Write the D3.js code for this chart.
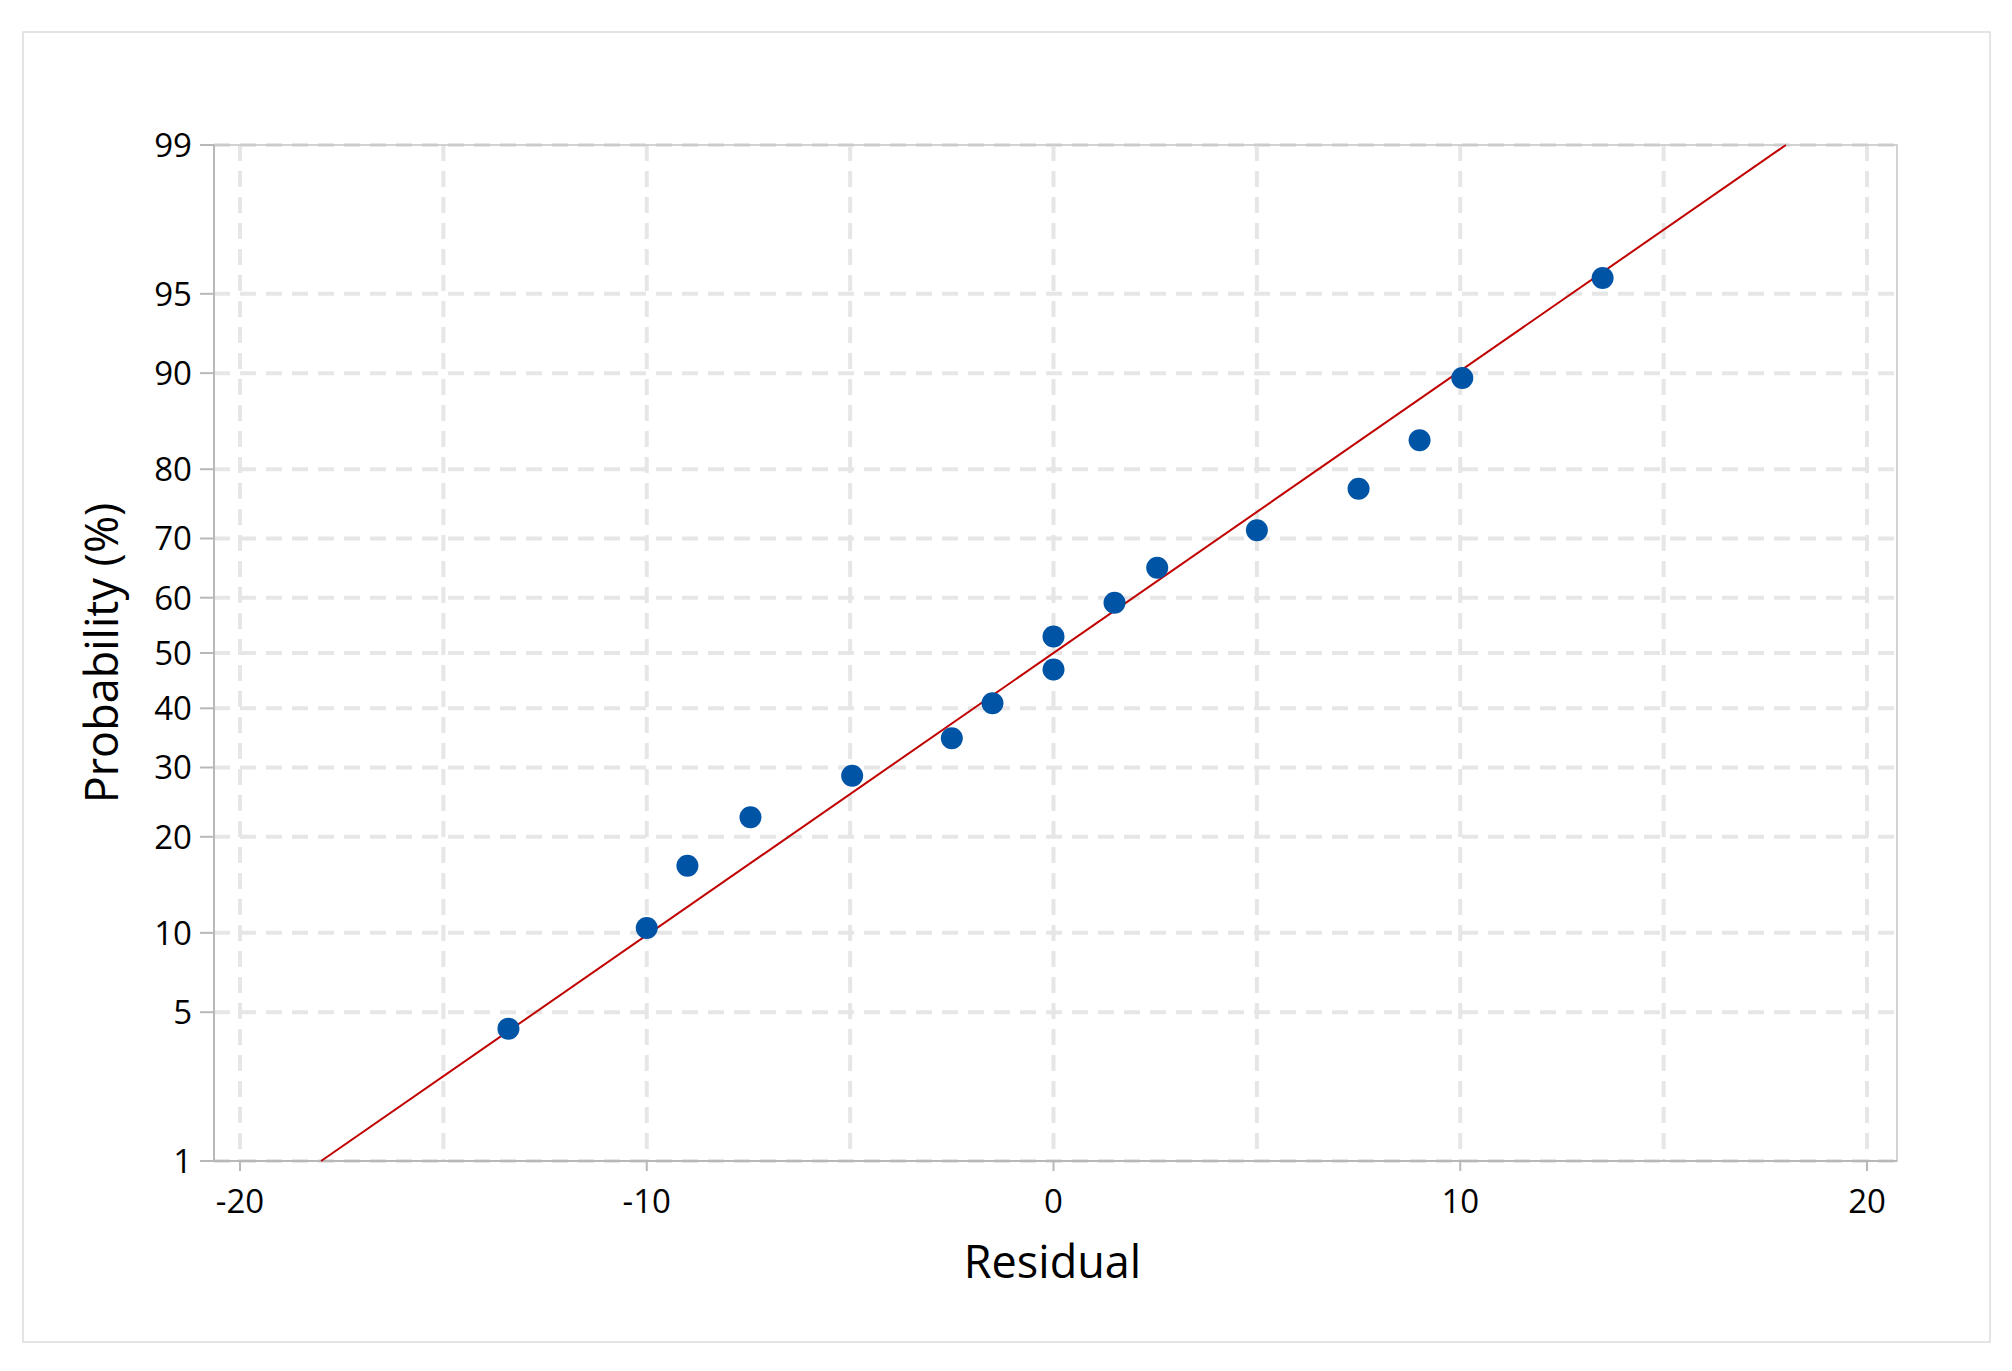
<!DOCTYPE html>
<html><head><meta charset="utf-8">
<script src="https://cdn.jsdelivr.net/npm/d3@7"></script>
<style>body{margin:0;background:#fff}text{font-family:"Open Sans","Noto Sans",sans-serif}</style>
</head><body>
<svg id="chart" width="2012" height="1371"></svg>
<script>
// residuals and plotting positions (%)
const residuals = [-13.4, -10.0, -9.0, -7.45, -4.95, -2.5, -1.5, 0.0, 0.0, 1.5, 2.55, 5.0, 7.5, 9.0, 10.05, 13.5];
const probs = [4.27, 10.4, 16.5, 22.6, 28.7, 34.8, 40.9, 47.0, 53.0, 59.1, 65.2, 71.3, 77.4, 83.5, 89.6, 95.7];
const yTicks = [1, 5, 10, 20, 30, 40, 50, 60, 70, 80, 90, 95, 99];
const xGrid = [-20, -15, -10, -5, 0, 5, 10, 15, 20];
const xTicks = [-20, -10, 0, 10, 20];
const fitMean = 0, fitSd = 7.74;

// inverse normal cdf (Acklam)
const qnorm = (p) => {
  const a = [-39.69683028665376, 220.9460984245205, -275.9285104469687, 138.357751867269, -30.66479806614716, 2.506628277459239];
  const b = [-54.47609879822406, 161.5858368580409, -155.6989798598866, 66.80131188771972, -13.28068155288572];
  const c = [-0.007784894002430293, -0.3223964580411365, -2.400758277161838, -2.549732539343734, 4.374664141464968, 2.938163982698783];
  const d = [0.007784695709041462, 0.3224671290700398, 2.445134137142996, 3.754408661907416];
  const pl = 0.02425;
  let q, r;
  if (p < pl) { q = Math.sqrt(-2 * Math.log(p));
    return (((((c[0]*q+c[1])*q+c[2])*q+c[3])*q+c[4])*q+c[5]) / ((((d[0]*q+d[1])*q+d[2])*q+d[3])*q+1); }
  if (p > 1 - pl) { q = Math.sqrt(-2 * Math.log(1 - p));
    return -(((((c[0]*q+c[1])*q+c[2])*q+c[3])*q+c[4])*q+c[5]) / ((((d[0]*q+d[1])*q+d[2])*q+d[3])*q+1); }
  q = p - 0.5; r = q * q;
  return (((((a[0]*r+a[1])*r+a[2])*r+a[3])*r+a[4])*r+a[5])*q / (((((b[0]*r+b[1])*r+b[2])*r+b[3])*r+b[4])*r+1);
};

const svg = d3.select("#chart");
const plot = { left: 214, right: 1897, top: 145, bottom: 1161 };

svg.append("rect").attr("x", 23).attr("y", 32).attr("width", 1967).attr("height", 1310)
  .attr("fill", "#fff").attr("stroke", "#dcdcdc").attr("stroke-width", 1.5);

const x = d3.scaleLinear().domain([-20, 20]).range([240, 1867]);
const zScale = d3.scaleLinear().domain([qnorm(0.01), qnorm(0.99)]).range([plot.bottom, plot.top]);
const y = (p) => zScale(qnorm(p / 100));

// grid
const grid = svg.append("g").attr("stroke", "#e6e6e6").attr("stroke-width", 4).attr("stroke-dasharray", "16,10");
grid.selectAll(".gx").data(xGrid).join("line")
  .attr("x1", (d) => x(d)).attr("x2", (d) => x(d)).attr("y1", plot.top).attr("y2", plot.bottom);
grid.selectAll(".gy").data(yTicks).join("line")
  .attr("x1", plot.left).attr("x2", plot.right).attr("y1", (d) => y(d)).attr("y2", (d) => y(d));

// frame
svg.append("rect").attr("x", plot.left).attr("y", plot.top)
  .attr("width", plot.right - plot.left).attr("height", plot.bottom - plot.top)
  .attr("fill", "none").attr("stroke", "#c4c4c4").attr("stroke-width", 1.5);
svg.append("line").attr("x1", plot.left).attr("x2", plot.right).attr("y1", plot.bottom).attr("y2", plot.bottom)
  .attr("stroke", "#b8b8b8").attr("stroke-width", 2);
svg.append("line").attr("x1", plot.left).attr("x2", plot.left).attr("y1", plot.top).attr("y2", plot.bottom)
  .attr("stroke", "#b8b8b8").attr("stroke-width", 2);

// ticks and labels
const axisG = svg.append("g");
axisG.selectAll(".tx").data(xTicks).join("line")
  .attr("x1", (d) => x(d)).attr("x2", (d) => x(d)).attr("y1", plot.bottom).attr("y2", plot.bottom + 10)
  .attr("stroke", "#b8b8b8").attr("stroke-width", 2);
axisG.selectAll(".lx").data(xTicks).join("text")
  .attr("x", (d) => x(d)).attr("y", plot.bottom + 52).attr("text-anchor", "middle")
  .style("font-size", "33px").attr("fill", "#000").text((d) => d);
axisG.selectAll(".ty").data(yTicks).join("line")
  .attr("x1", plot.left - 14).attr("x2", plot.left).attr("y1", (d) => y(d)).attr("y2", (d) => y(d))
  .attr("stroke", "#b8b8b8").attr("stroke-width", 2);
axisG.selectAll(".ly").data(yTicks).join("text")
  .attr("x", plot.left - 22).attr("y", (d) => y(d)).attr("dy", "0.36em").attr("text-anchor", "end")
  .style("font-size", "33px").attr("fill", "#000").text((d) => d);

svg.append("text").attr("x", (plot.left + plot.right) / 2 - 3).attr("y", 1278).attr("text-anchor", "middle")
  .style("font-size", "45px").style("font-weight", 500).attr("fill", "#000").text("Residual");
svg.append("text").attr("transform", `translate(118,${(plot.top + plot.bottom) / 2}) rotate(-90)`)
  .attr("text-anchor", "middle").style("font-size", "45px").style("font-weight", 500).attr("fill", "#000").text("Probability (%)");

// fitted line
const fitP = [1, 99];
svg.append("line")
  .attr("x1", x(fitMean + fitSd * qnorm(fitP[0] / 100))).attr("y1", y(fitP[0]))
  .attr("x2", x(fitMean + fitSd * qnorm(fitP[1] / 100))).attr("y2", y(fitP[1]))
  .attr("stroke", "#c00000").attr("stroke-width", 2);

// points
svg.append("g").selectAll("circle").data(residuals).join("circle")
  .attr("cx", (d) => x(d)).attr("cy", (d, i) => y(probs[i])).attr("r", 11).attr("fill", "#0054a6");
</script>
</body></html>
